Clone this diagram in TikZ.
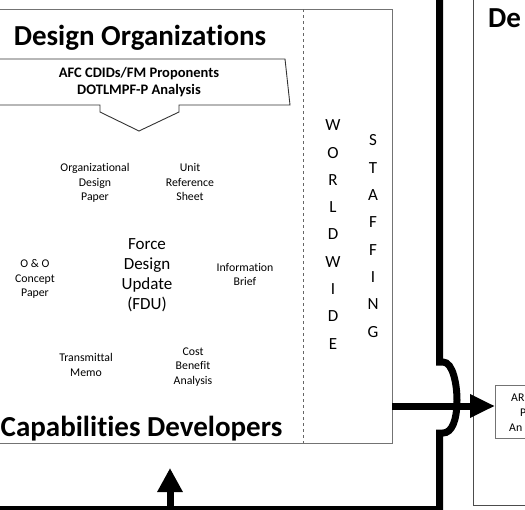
\documentclass[tikz,border=0pt]{standalone}
\usepackage{fontspec}
\setmainfont{Carlito}[Ligatures=CommonOff]
\usetikzlibrary{arrows.meta}
\begin{document}
\begin{tikzpicture}[x=1pt,y=-1pt,
  lbl/.style={align=center, inner sep=0pt, font=\fontsize{11.8}{14.5}\selectfont},
  vert/.style={align=center, inner sep=0pt, font=\fontsize{17}{27.3}\selectfont},
  headtxt/.style={inner sep=0pt, anchor=base, font=\fontsize{29}{32}\selectfont\bfseries},
  calltxt/.style={inner sep=0pt, anchor=base, font=\fontsize{14.5}{17}\selectfont\bfseries},
  boxline/.style={draw=black!55, line width=0.8pt},
  thick/.style={line width=7pt, black}]
\useasboundingbox (0,0) rectangle (525,509);
% left box
\draw[boxline] (-5,9) rectangle (392,443);
\draw[black!60, line width=0.6pt, dashed] (303,9) -- (303,443);
% heading
\node[headtxt] (dorg) at (140,45) {Design Organizations};
% callout
\draw[draw=black!80, line width=0.9pt] (-5,59) -- (285,59) -- (290,105) -- (179,105) -- (179,112) -- (139,131) -- (100,112) -- (100,105) -- (-5,105);
\node[calltxt] (afc1) at (139,77) {AFC CDIDs/FM Proponents};
\node[calltxt] (afc2) at (139,94) {DOTLMPF-P Analysis};
% labels
\node[lbl] (odp) at (95,183) {Organizational\\Design\\Paper};
\node[lbl] (urs) at (190,182) {Unit\\Reference\\Sheet};
\node[align=center, inner sep=0pt, font=\fontsize{17}{20}\selectfont] (fdu) at (147,275) {Force\\Design\\Update\\(FDU)};
\node[lbl] (oo) at (35,279) {O \& O\\Concept\\Paper};
\node[lbl] (ib) at (245,274.5) {Information\\Brief};
\node[lbl] (tm) at (86,365) {Transmittal\\Memo};
\node[lbl] (cba) at (193,367) {Cost\\Benefit\\Analysis};
\node[headtxt] (capdev) at (141.5,436) {Capabilities Developers};
% vertical words
\node[vert] (ww) at (333,234.5) {W\\O\\R\\L\\D\\W\\I\\D\\E};
\node[vert] (st) at (373,236) {S\\T\\A\\F\\F\\I\\N\\G};
% right box
\draw[draw=black!70, line width=0.7pt] (473,-5) rectangle (600,505);
\node[anchor=base west, inner sep=0pt, font=\fontsize{29}{32}\selectfont\bfseries] (dright) at (488,27) {De};
\node[draw=black!55, line width=0.7pt, anchor=north west, minimum width=90pt, minimum height=53pt] (arbox) at (495,385) {};
\node[anchor=base west, inner sep=0pt, font=\fontsize{11.8}{14}\selectfont] (l1) at (511,401) {AR};
\node[anchor=base west, inner sep=0pt, font=\fontsize{11.8}{14}\selectfont] (l2) at (520,416) {P};
\node[anchor=base west, inner sep=0pt, font=\fontsize{11.8}{14}\selectfont] (l3) at (509,431) {An};
% thick connector with jump
\coordinate (ttop) at (439.5,-10);
\coordinate (j1) at (439.5,362);
\coordinate (j2) at (439.5,433);
\coordinate (bcorner) at (439.5,509.5);
\coordinate (bleft) at (-10,509.5);
\draw[thick, line join=miter] (ttop) -- (j1) -- ++(3.5,0) .. controls (453,362) and (457,385) .. (457,400) .. controls (457,420) and (452,433) .. (443,433) -- (j2) -- (bcorner) -- (bleft);
% horizontal arrow
\coordinate (hstart) at (392,406);
\draw[thick, -{Triangle[length=25pt,width=22pt]}] (hstart) -- (arbox.west |- hstart);
% upward arrow
\coordinate (ustart) at (170,509.5);
\coordinate (uend) at (170,468);
\draw[thick, -{Triangle[length=24pt,width=24pt]}] (ustart) -- (uend);
\end{tikzpicture}
\end{document}
